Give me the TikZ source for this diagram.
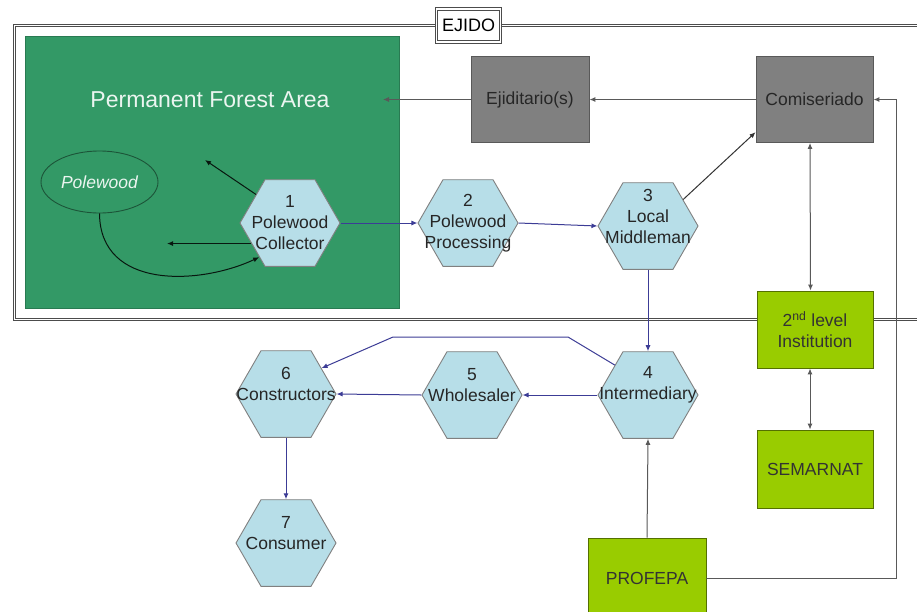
\documentclass[tikz,border=0pt]{standalone}
\usepackage{fontspec}
\setmainfont{Liberation Sans}
\usetikzlibrary{shapes.geometric,arrows.meta}
\definecolor{forestgreen}{HTML}{339966}
\definecolor{hexblue}{HTML}{B7DEE8}
\definecolor{boxgray}{HTML}{808080}
\definecolor{boxgreen}{HTML}{99CC00}
\definecolor{flowblue}{HTML}{3C3C96}
\begin{document}
\begin{tikzpicture}[x=1pt, y=-1pt,
    >={Latex[length=6pt,width=5pt]},
    hex/.style={regular polygon, regular polygon sides=6, minimum size=100pt, inner sep=0pt,
        draw=black!50, fill=hexblue, line width=0.9pt},
    hexlabel/.style={align=center, inner sep=0pt, font=\fontsize{17.5}{21}\selectfont, text=black!85},
    raised/.style={yshift=10pt},
    graybox/.style={draw=black!65, fill=boxgray, line width=0.9pt, minimum width=118pt,
        minimum height=86pt, inner sep=0pt, font=\fontsize{17.5}{21}\selectfont, text=black!85},
    greenbox/.style={draw=boxgreen!55!black, fill=boxgreen, line width=0.9pt, minimum width=116pt,
        inner sep=0pt, align=center, font=\fontsize{17.5}{21}\selectfont, text=black!80},
    flow/.style={->, draw=flowblue, line width=1pt},
    link/.style={->, draw=black!65, line width=1pt},
    inlink/.style={->, draw=black!85!forestgreen, line width=1pt}
]
\clip (0,0) rectangle (917,611);
\fill[white] (0,0) rectangle (917,611);

\draw[draw=black!70, double=white, double distance=1.8pt, line width=0.9pt] (14.5,25.5) rectangle (960,319.5);
\node[draw=black!70, double=white, double distance=1.5pt, line width=0.8pt, fill=white,
    minimum width=64pt, minimum height=33pt, inner sep=0pt, font=\fontsize{18}{21}\selectfont] (ejido) at (468.5,25.5) {EJIDO};

\node[fill=forestgreen, draw=forestgreen!80!black, minimum width=374pt, minimum height=272pt, inner sep=0pt] (forest) at (212,172) {};
\node[text=white!90!forestgreen, font=\fontsize{23}{27}\selectfont] (title) at (210,100) {Permanent Forest Area};
\node[ellipse, draw=forestgreen!55!black, line width=0.9pt, minimum width=117pt, minimum height=62pt, inner sep=0pt,
    text=white!90!forestgreen, font=\itshape\fontsize{17.5}{21}\selectfont] (pole) at (99.5,182) {Polewood};

\node[hex, label={[hexlabel]center:1\\Polewood\\Collector}] (h1) at (290,223) {};
\node[hex, label={[hexlabel]center:2\\Polewood\\Processing}] (h2) at (468,223) {};
\node[hex, label={[hexlabel,raised]center:3\\Local\\Middleman}] (h3) at (648,226) {};
\node[hex, label={[hexlabel,raised]center:4\\Intermediary}] (h4) at (648,395) {};
\node[hex, label={[hexlabel,raised]center:5\\Wholesaler}] (h5) at (472,395) {};
\node[hex, label={[hexlabel,raised]center:6\\Constructors}] (h6) at (286,394) {};
\node[hex, label={[hexlabel,raised]center:7\\Consumer}] (h7) at (286,543) {};

\node[graybox] (ejid) at (530,99.5) {Ejiditario(s)};
\node[graybox, minimum width=117pt] (comi) at (814.5,99.5) {Comiseriado};
\node[greenbox, minimum height=77pt] (inst) at (815,329.5) {2\textsuperscript{nd} level\\Institution};
\node[greenbox, minimum height=78pt] (semar) at (815,469) {SEMARNAT};
\node[greenbox, minimum width=118pt, minimum height=80pt] (prof) at (647,578) {PROFEPA};

\coordinate (forestin) at (383,97);
\coordinate (upleft) at (205,160);
\coordinate (leftin) at (167,243);

\draw[link] (comi.west) -- (ejid.east);
\draw[link] (ejid.west) -- (ejid.west -| forestin);
\draw[inlink] (h1.140) -- (upleft);
\draw[inlink] (h1.208) -- (h1.208 -| leftin);
\draw[inlink] (pole.south) .. controls (100,290) and (200,285) .. (h1.228);

\draw[flow] (h1.east) -- (h2.west);
\draw[flow] (h2.east) -- (h3.west);
\draw[flow] (h3.south) -- (h4.north);
\draw[flow] (h4.west) -- (h5.east);
\draw[flow] (h5.west) -- (h6.east);
\draw[flow] (h6.south) -- (h7.north);
\draw[flow] (h4.138) -- (568,337) -- (393,337) -- (h6.36);

\draw[link, draw=black!80] (h3.37) -- (comi.209);
\draw[link] (prof.north) -- (h4.south);
\draw[link] (prof.east) -- ++(190,0) |- (comi.east);
\draw[link, <->] ([xshift=-4.5pt]comi.south) -- ([xshift=-4.5pt]inst.north);
\draw[link, <->] ([xshift=-5pt]inst.south) -- ([xshift=-5pt]semar.north);
\end{tikzpicture}
\end{document}
